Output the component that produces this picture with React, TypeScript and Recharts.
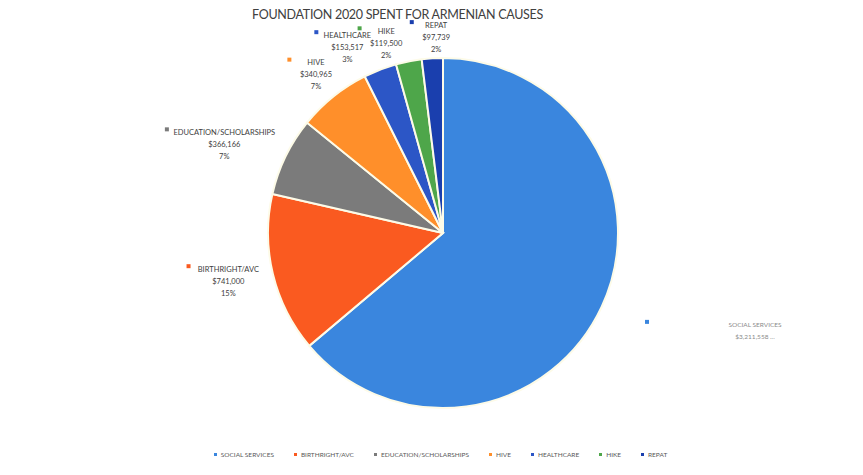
import React from "react";
import { PieChart, Pie, Cell, Legend } from "recharts";

document.body.style.margin = "0";

const categories = [
  "SOCIAL SERVICES",
  "BIRTHRIGHT/AVC",
  "EDUCATION/SCHOLARSHIPS",
  "HIVE",
  "HEALTHCARE",
  "HIKE",
  "REPAT",
];
const amounts = [3211558, 741000, 366166, 340965, 153517, 119500, 97739];
const colors = ["#3a86de", "#fa5a20", "#7b7b7b", "#ff8f2a", "#2c56c6", "#4ea64a", "#1a3fae"];

// where Excel dropped each data label: distance from pie centre, angle nudge, extra marker gap
const labelDist = [327, 220, 236, 203, 209, 198, 196];
const labelNudge = [7.5, -1, 3.9, 0, 6.2, 5.4, -1.5];
const markerGap = [66, 0, 0, 0, 0, 0, 0];

const data = categories.map((name, i) => ({ name, value: amounts[i] }));

const RAD = Math.PI / 180;
const FONT = "Lato, 'Noto Sans', sans-serif";

const money = (v: number) => "$" + v.toLocaleString("en-US");

function renderLabel(props: any) {
  const { cx, cy, midAngle, index, value, percent } = props;
  const a = (midAngle + labelNudge[index]) * RAD;
  const x = cx + labelDist[index] * Math.cos(a);
  const y = cy - labelDist[index] * Math.sin(a);
  const lines =
    index === 0
      ? [categories[index], money(value) + " ..."]
      : [categories[index], money(value), Math.round(percent * 100) + "%"];
  const step = 12;
  const top = y - ((lines.length - 1) * step) / 2;
  const widest = Math.max(...lines.map((l) => l.length)) * 4.4;
  const mx = x - widest / 2 - 9 - markerGap[index];
  const faded = index === 0;
  return (
    <g key={`lbl-${index}`}>
      <rect x={mx - 2} y={top - 5} width={4} height={4} fill={colors[index]} />
      {lines.map((l, k) => (
        <text
          key={k}
          x={x}
          y={top + k * step}
          textAnchor="middle"
          dominantBaseline="central"
          fontFamily={FONT}
          fontSize={faded ? 6.5 : 7.5}
          fill={faded ? "#8a8a8a" : "#404040"}
        >
          {l}
        </text>
      ))}
    </g>
  );
}

function LegendRow() {
  return (
    <div
      style={{
        display: "flex",
        justifyContent: "center",
        gap: 20,
        fontFamily: FONT,
        fontSize: 6.5,
        color: "#595959",
        paddingLeft: 18,
      }}
    >
      {categories.map((c, i) => (
        <div key={c} style={{ display: "flex", alignItems: "center" }}>
          <span
            style={{ width: 3, height: 3, background: colors[i], marginRight: 4, display: "inline-block" }}
          />
          <span>{c}</span>
        </div>
      ))}
    </div>
  );
}

export default function App() {
  return (
    <div style={{ position: "relative", width: 863, height: 475, background: "#fff" }}>
      <div
        style={{
          position: "absolute",
          top: 7,
          left: 0,
          width: 795,
          textAlign: "center",
          fontFamily: FONT,
          fontSize: 12.5,
          letterSpacing: -0.3,
          color: "#404040",
          zIndex: 2,
        }}
      >
        FOUNDATION 2020 SPENT FOR ARMENIAN CAUSES
      </div>
      <PieChart width={863} height={475} margin={{ top: 0, right: 0, bottom: 0, left: 0 }}>
        <Pie
          data={data}
          dataKey="value"
          nameKey="name"
          cx={443}
          cy={233}
          outerRadius={175}
          startAngle={90}
          endAngle={-270}
          stroke="#fdfbe8"
          strokeWidth={2}
          label={renderLabel}
          labelLine={false}
          isAnimationActive={false}
        >
          {data.map((d, i) => (
            <Cell key={`cell-${i}`} fill={colors[i]} />
          ))}
        </Pie>
        <Legend
          content={() => <LegendRow />}
          wrapperStyle={{ position: "absolute", top: 451, left: 0, width: 863 }}
        />
      </PieChart>
    </div>
  );
}
